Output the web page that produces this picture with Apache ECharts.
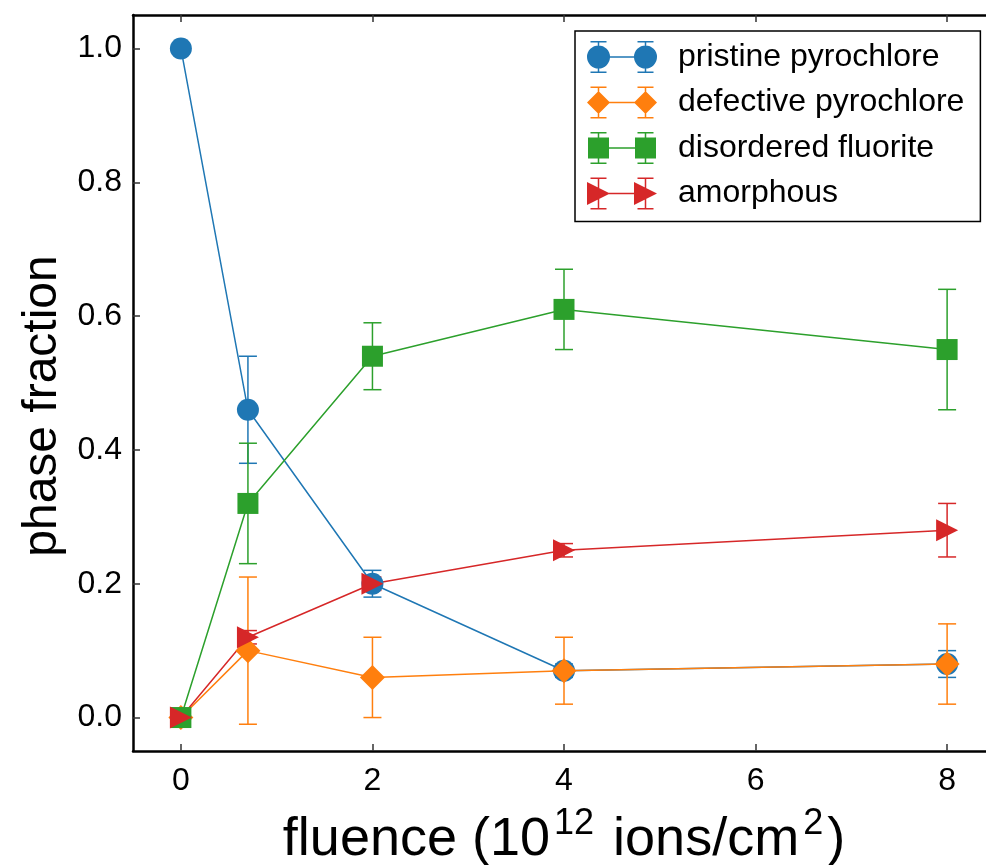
<!DOCTYPE html>
<html>
<head>
<meta charset="utf-8">
<script src="https://cdn.jsdelivr.net/npm/echarts@6/dist/echarts.min.js"></script>
<style>
  html, body { margin: 0; padding: 0; background: #fff; }
  #chart { width: 986px; height: 865px; }
</style>
</head>
<body>
<div id="chart"></div>
<script>
// fluence in 10^12 ions/cm^2
const fluence = [0, 0.7, 2, 4, 8];

const pristine = [1.0, 0.46, 0.20, 0.07, 0.08];
const pristineErr = [0, 0.08, 0.02, 0.01, 0.02];
const defective = [0, 0.10, 0.06, 0.07, 0.08];
const defectiveErr = [0, 0.11, 0.06, 0.05, 0.06];
const disordered = [0, 0.32, 0.54, 0.61, 0.55];
const disorderedErr = [0, 0.09, 0.05, 0.06, 0.09];
const amorphous = [0, 0.12, 0.20, 0.25, 0.28];
const amorphousErr = [0, 0.01, 0.01, 0.01, 0.04];

const xTicks = [0, 2, 4, 6, 8];
const yTicks = [0, 0.2, 0.4, 0.6, 0.8, 1.0];

const FONT = "'Liberation Sans', Arial, sans-serif";

// legend icons: marker - line - marker with error bars, drawn clockwise
function rect(x0, y0, x1, y1) {
  return `M${x0} ${y0}H${x1}V${y1}H${x0}Z`;
}
function errParts() {
  let p = rect(11.5, 15.25, 58.5, 16.75);
  [11.5, 58.5].forEach((cx) => {
    p += rect(cx - 0.75, 0.75, cx + 0.75, 31.25);
    p += rect(cx - 8, 0, cx + 8, 1.5);
    p += rect(cx - 8, 30.5, cx + 8, 32);
  });
  return p;
}
function iconPath(kind) {
  let p = errParts();
  [11.5, 58.5].forEach((cx) => {
    const r = 11.5;
    if (kind === "circle") {
      p += `M${cx - r} 16A${r} ${r} 0 1 1 ${cx + r} 16A${r} ${r} 0 1 1 ${cx - r} 16Z`;
    } else if (kind === "diamond") {
      p += `M${cx} ${16 - r}L${cx + r} 16L${cx} ${16 + r}L${cx - r} 16Z`;
    } else if (kind === "square") {
      p += rect(cx - 10.5, 5.5, cx + 10.5, 26.5);
    } else {
      p += `M${cx - r} ${16 - r}L${cx + r} 16L${cx - r} ${16 + r}Z`;
    }
  });
  return "path://" + p;
}

const phases = [
  { name: "pristine pyrochlore", y: pristine, err: pristineErr, color: "#1f77b4", symbol: "circle", size: 22, icon: "circle" },
  { name: "defective pyrochlore", y: defective, err: defectiveErr, color: "#ff7f0e", symbol: "diamond", size: 25, icon: "diamond" },
  { name: "disordered fluorite", y: disordered, err: disorderedErr, color: "#2ca02c", symbol: "rect", size: 21, icon: "square" },
  { name: "amorphous", y: amorphous, err: amorphousErr, color: "#d62728", symbol: "path://M0 0L2 1L0 2Z", size: 22, icon: "triangle" },
];

function errorBarItem(params, api) {
  const x = api.value(0);
  const top = api.coord([x, api.value(2)]);
  const bot = api.coord([x, api.value(1)]);
  const half = 9;
  const style = { stroke: api.visual("color"), lineWidth: 1.5 };
  return {
    type: "group",
    children: [
      { type: "line", shape: { x1: top[0], y1: top[1], x2: bot[0], y2: bot[1] }, style },
      { type: "line", shape: { x1: top[0] - half, y1: top[1], x2: top[0] + half, y2: top[1] }, style },
      { type: "line", shape: { x1: bot[0] - half, y1: bot[1], x2: bot[0] + half, y2: bot[1] }, style },
    ],
  };
}

const series = [];
phases.forEach((ph) => {
  series.push({
    name: ph.name + " err",
    type: "custom",
    renderItem: errorBarItem,
    itemStyle: { color: ph.color },
    encode: { x: 0, y: [1, 2] },
    data: fluence.map((f, i) => [f, ph.y[i] - ph.err[i], ph.y[i] + ph.err[i]]),
    silent: true,
  });
  series.push({
    name: ph.name,
    type: "line",
    data: fluence.map((f, i) => [f, ph.y[i]]),
    symbol: ph.symbol,
    symbolSize: ph.size,
    showSymbol: true,
    showAllSymbol: true,
    color: ph.color,
    lineStyle: { color: ph.color, width: 1.5 },
    itemStyle: { color: ph.color, borderWidth: 0 },
  });
});

const axisCommon = {
  type: "value",
  splitLine: { show: false },
  axisLine: { show: true, onZero: false, lineStyle: { color: "#000", width: 2.5 } },
  axisTick: { show: true, inside: true, length: 7, lineStyle: { color: "#333", width: 1.5 } },
};

const chart = echarts.init(document.getElementById("chart"), null, { renderer: "canvas" });

chart.setOption({
  animation: false,
  backgroundColor: "#fff",
  textStyle: { fontFamily: FONT },
  grid: { left: 133, top: 15, width: 862, bottom: 114, outerBoundsMode: "none", containLabel: false },
  legend: {
    left: 575,
    top: 31,
    orient: "vertical",
    padding: [10, 16, 12, 12],
    itemWidth: 70,
    itemHeight: 32,
    itemGap: 13.5,
    borderColor: "#000",
    borderWidth: 1.5,
    backgroundColor: "#fff",
    selectedMode: false,
    itemStyle: { borderWidth: 0 },
    textStyle: { fontFamily: FONT, fontSize: 32, color: "#000", padding: [0, 0, 0, 16] },
    data: phases.map((ph) => ({ name: ph.name, icon: iconPath(ph.icon) })),
  },
  xAxis: [
    {
      ...axisCommon,
      position: "bottom",
      min: -0.5,
      max: 8.5,
      axisTick: { ...axisCommon.axisTick, customValues: xTicks },
      axisLabel: {
        customValues: xTicks,
        color: "#000",
        fontSize: 32,
        fontFamily: FONT,
        margin: 14,
      },
      name: "{n|fluence (10}{s|12}{n| ions/cm}{s|2}{n|)}",
      nameLocation: "middle",
      nameGap: 55,
      nameTextStyle: {
        rich: {
          n: { fontSize: 54, lineHeight: 68, fontFamily: FONT, color: "#000" },
          s: { fontSize: 36, fontFamily: FONT, color: "#000", verticalAlign: "top", padding: [0, 4, 0, 4] },
        },
      },
    },
    {
      ...axisCommon,
      position: "top",
      min: -0.5,
      max: 8.5,
      axisTick: { ...axisCommon.axisTick, customValues: xTicks },
      axisLabel: { show: false },
    },
  ],
  yAxis: [
    {
      ...axisCommon,
      position: "left",
      min: -0.05,
      max: 1.05,
      axisTick: { ...axisCommon.axisTick, customValues: yTicks },
      axisLabel: {
        customValues: yTicks,
        color: "#000",
        fontSize: 32,
        fontFamily: FONT,
        margin: 11,
        formatter: (v) => v.toFixed(1),
      },
      name: "phase fraction",
      nameLocation: "middle",
      nameGap: 66,
      nameTextStyle: { fontSize: 48, fontFamily: FONT, color: "#000", padding: [0, 46, 0, 0] },
    },
  ],
  series: series,
});
</script>
</body>
</html>
